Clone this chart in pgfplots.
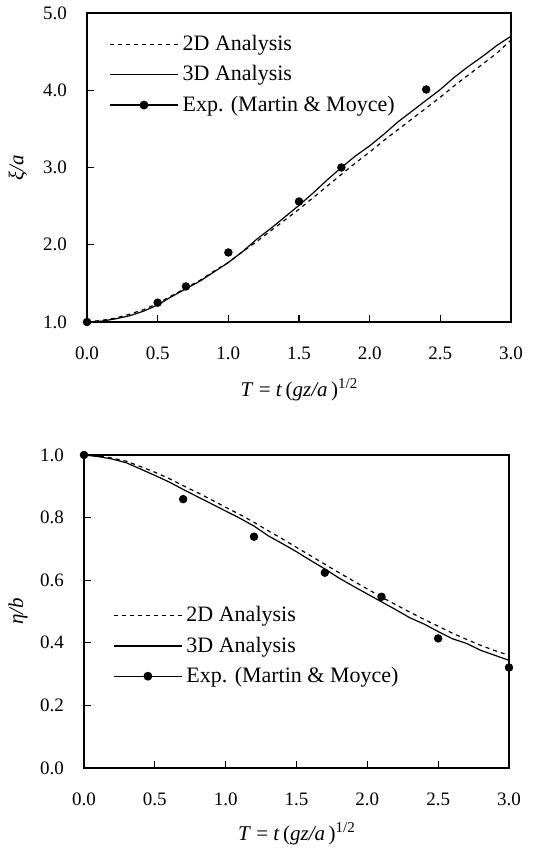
\documentclass[border=0pt]{standalone}
\usepackage{fontspec}
\setmainfont{Liberation Serif}
\usepackage{pgfplots}
\pgfplotsset{compat=1.18}

\pgfplotsset{
  fig/.style={
    scale only axis,
    font=\fontsize{9.5}{11}\selectfont,
    xmin=0, xmax=3, xtick={0,0.5,...,3},
    xtick pos=left, ytick pos=left,
    tick align=inside, major tick length=3.5pt,
    axis line style={line width=0.6pt},
    every tick/.style={line width=0.6pt, black},
    /pgf/number format/assume math mode=true,
    xticklabel={\pgfmathprintnumber[fixed,fixed zerofill,precision=1]{\tick}},
    yticklabel={\pgfmathprintnumber[fixed,fixed zerofill,precision=1]{\tick}},
    xticklabel style={yshift=-9pt},
    yticklabel style={xshift=-6.5pt},
    label style={font=\fontsize{10.5}{12}\selectfont},
    xlabel={\textit{T} = \textit{t}\,(\textit{gz/a}\,)\raisebox{0.8ex}{\fontsize{7.5}{8}\selectfont 1/2}},
    clip=false,
    legend cell align=left,
    legend style={draw=none, fill=none, font=\fontsize{11}{12}\selectfont,
      row sep=2pt, inner sep=0pt, anchor=west},
    legend image code/.code={
      \draw[mark repeat=2,mark phase=2,#1] plot coordinates {(0pt,0pt) (17pt,0pt) (34pt,0pt)};},
  },
  dd/.style={black, line width=0.6pt, dash pattern=on 2pt off 2pt},
  td/.style={black, line width=0.6pt},
  ex/.style={black, mark=*, mark size=1.9pt},
}

\begin{document}
\begin{tikzpicture}
\path[use as bounding box] (-43.5pt,-264pt) rectangle (234pt,161pt);

% upper panel
\begin{axis}[fig, at={(0,0)}, anchor=south west,
  width=212pt, height=154.5pt,
  ymin=1, ymax=5, ytick={1,2,3,4,5},
  ylabel={\textit{ξ/a}},
  xlabel style={at={(axis description cs:0.5,-0.22)}, anchor=center},
  ylabel style={at={(axis description cs:-0.163,0.5)}, anchor=center},
  legend style={at={(axis description cs:0.052,0.80)}},
]
\addplot[dd] coordinates {
(0,1.00) (0.1,1.02) (0.2,1.05) (0.3,1.10) (0.4,1.16) (0.5,1.24) (0.6,1.34)
(0.7,1.44) (0.8,1.54) (0.9,1.66) (1.0,1.77) (1.1,1.91) (1.2,2.04) (1.3,2.18)
(1.4,2.32) (1.5,2.46) (1.6,2.61) (1.7,2.76) (1.8,2.91) (1.9,3.06) (2.0,3.20)
(2.1,3.35) (2.2,3.49) (2.3,3.63) (2.4,3.77) (2.5,3.91) (2.6,4.06) (2.7,4.20)
(2.8,4.34) (2.9,4.48) (3.0,4.65)
};
\addlegendentry{2D Analysis}
\addplot[td] coordinates {
(0,1.00) (0.1,1.01) (0.2,1.04) (0.3,1.08) (0.4,1.14) (0.5,1.22) (0.6,1.33)
(0.7,1.43) (0.8,1.53) (0.9,1.65) (1.0,1.77) (1.1,1.91) (1.2,2.07) (1.3,2.21)
(1.4,2.36) (1.5,2.51) (1.6,2.67) (1.7,2.84) (1.8,3.00) (1.9,3.15) (2.0,3.28)
(2.1,3.43) (2.2,3.59) (2.3,3.73) (2.4,3.87) (2.5,4.01) (2.6,4.17) (2.7,4.31)
(2.8,4.44) (2.9,4.58) (3.0,4.70)
};
\addlegendentry{3D Analysis}
\addplot[ex, only marks, forget plot] coordinates {
(0,1.00) (0.5,1.25) (0.7,1.46) (1.0,1.90) (1.5,2.56) (1.8,3.00) (2.4,4.01)
};
\addlegendimage{td, mark=*, mark size=1.9pt}
\addlegendentry{Exp. (Martin \& Moyce)}
\end{axis}

% lower panel
\begin{axis}[fig, at={(-1.5pt,-223pt)}, anchor=south west,
  width=212.5pt, height=156.5pt,
  ymin=0, ymax=1, ytick={0,0.2,...,1.0},
  ylabel={\textit{η/b}},
  xlabel style={at={(axis description cs:0.5,-0.21)}, anchor=center},
  ylabel style={at={(axis description cs:-0.155,0.5)}, anchor=center},
  legend style={at={(axis description cs:0.068,0.39)}},
]
\addplot[dd] coordinates {
(0,1.000) (0.1,0.997) (0.2,0.990) (0.3,0.980) (0.4,0.963) (0.5,0.945)
(0.6,0.925) (0.7,0.902) (0.8,0.880) (0.9,0.857) (1.0,0.833) (1.1,0.810)
(1.2,0.785) (1.3,0.758) (1.4,0.732) (1.5,0.705) (1.6,0.678) (1.7,0.651)
(1.8,0.624) (1.9,0.598) (2.0,0.572) (2.1,0.546) (2.2,0.522) (2.3,0.498)
(2.4,0.475) (2.5,0.453) (2.6,0.431) (2.7,0.411) (2.8,0.392) (2.9,0.375)
(3.0,0.360)
};
\addlegendentry{2D Analysis}
\addplot[td] coordinates {
(0,1.000) (0.1,0.995) (0.2,0.987) (0.3,0.975) (0.4,0.955) (0.5,0.935)
(0.6,0.914) (0.7,0.890) (0.8,0.867) (0.9,0.844) (1.0,0.821) (1.1,0.798)
(1.2,0.773) (1.3,0.742) (1.4,0.717) (1.5,0.691) (1.6,0.663) (1.7,0.636)
(1.8,0.607) (1.9,0.581) (2.0,0.556) (2.1,0.531) (2.2,0.506) (2.3,0.480)
(2.4,0.460) (2.5,0.436) (2.6,0.413) (2.7,0.398) (2.8,0.376) (2.9,0.360)
(3.0,0.344)
};
\addlegendentry{3D Analysis}
\addplot[ex, only marks, forget plot] coordinates {
(0,1.000) (0.7,0.859) (1.2,0.739) (1.7,0.624) (2.1,0.547) (2.5,0.414) (3.0,0.321)
};
\addlegendimage{td, mark=*, mark size=1.9pt}
\addlegendentry{Exp. (Martin \& Moyce)}
\end{axis}
\end{tikzpicture}
\end{document}
